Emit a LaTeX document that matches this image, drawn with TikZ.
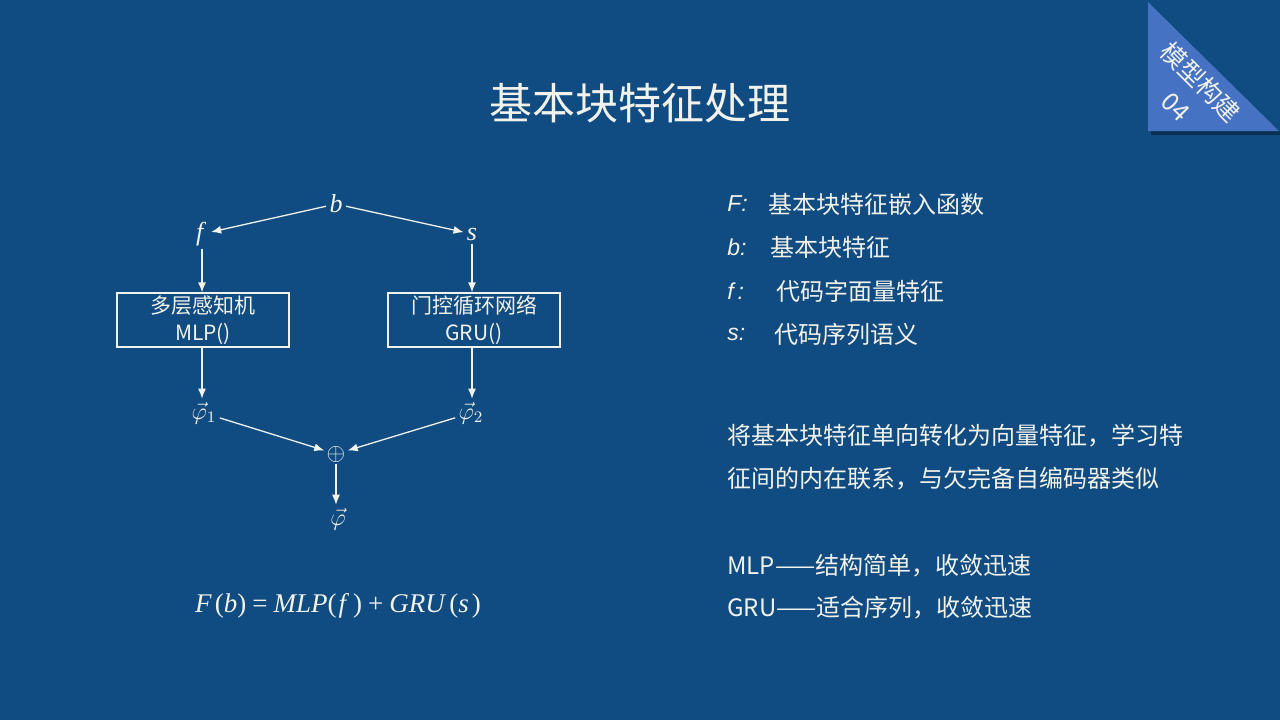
\documentclass[tikz,border=0pt]{standalone}
\usepackage{fontspec}
\setmainfont{Noto Sans CJK SC}
\newfontfamily\tms{Liberation Serif}
\newfontfamily\lsans{Liberation Sans}
\usetikzlibrary{arrows.meta}
\definecolor{bg}{RGB}{16,76,130}
\definecolor{tri}{RGB}{70,114,196}
\definecolor{ink}{RGB}{242,242,236}
\tikzset{
  conn/.style={draw=ink, line width=0.65pt, -{Latex[length=5pt,width=4pt]}},
  mathlbl/.style={text=ink, inner sep=1.5pt, font=\fontsize{12}{14}\selectfont},
  varlbl/.style={text=ink, inner sep=1.5pt, font=\tms\itshape\fontsize{13}{15}\selectfont},
  blockbox/.style={draw=ink, line width=0.6pt, text=ink, minimum width=86pt, minimum height=27pt,
                   align=center, font=\fontsize{10.5}{13.5}\selectfont, inner sep=0pt},
  bodytext/.style={text=ink, anchor=west, inner sep=0pt, font=\fontsize{12}{14}\selectfont},
  keytext/.style={text=ink, anchor=west, inner sep=0pt, font=\lsans\itshape\fontsize{11.5}{14}\selectfont},
  tabtext/.style={text=ink, rotate=-45, align=center, font=\fontsize{12.5}{17.5}\selectfont, inner sep=0pt}
}
\begin{document}
\begin{tikzpicture}[x=0.5pt, y=-0.5pt]
  \useasboundingbox (0,0) rectangle (1280,720);
  \fill[bg] (0,0) rectangle (1280,720);

  % section tab in the top-right corner
  \fill[black, opacity=0.35] (1151,5) -- (1151,135) -- (1283,135) -- cycle;
  \fill[tri] (1148,2) -- (1148,131) -- (1279,131) -- cycle;
  \node[tabtext] (tab) at (1189,94) {模型构建\\04};

  % title
  \node[text=ink, font=\fontsize{21.5}{26}\selectfont, inner sep=0pt] (title) at (640,103) {基本块特征处理};

  % flow diagram
  \node[varlbl] (b) at (336,204) {b};
  \node[varlbl] (f) at (202,234) {f\,};
  \node[varlbl] (s) at (472,234) {s};
  \node[blockbox] (mlp) at (203,320) {多层感知机\\MLP()};
  \node[blockbox] (gru) at (474,320) {门控循环网络\\GRU()};
  \node[mathlbl] (p1) at (204,413) {$\vec{\varphi}_1$};
  \node[mathlbl] (p2) at (471,413) {$\vec{\varphi}_2$};
  \node[mathlbl, inner sep=1pt] (sum) at (336,454) {$\oplus$};
  \node[mathlbl] (p) at (338,519) {$\vec{\varphi}$};

  \draw[conn] (b) -- (f);
  \draw[conn] (b) -- (s);
  \draw[conn] (f.south) -- (mlp.north -| f.south);
  \draw[conn] (s.south) -- (gru.north -| s.south);
  \draw[conn] (mlp.south -| f.south) -- (p1.north -| f.south);
  \draw[conn] (gru.south -| s.south) -- (p2.north -| s.south);
  \draw[conn] (p1) -- (sum);
  \draw[conn] (p2) -- (sum);
  \draw[conn] (sum) -- (p.north -| sum);

  \node[text=ink, inner sep=0pt, font=\tms\fontsize{13.5}{16}\selectfont] (formula) at (338,606)
    {\textit{F}\kern1.5pt(\textit{b})\kern3pt=\kern3pt\textit{MLP}(\kern1pt\textit{f}\kern2pt)\kern3pt+\kern3pt\textit{GRU}\kern1.5pt(\textit{s}\kern1.5pt)};

  % legend
  \node[keytext] (kF) at (727,204) {F:};
  \node[bodytext] (tF) at (768,204) {基本块特征嵌入函数};
  \node[keytext] (kb) at (727,247) {b:};
  \node[bodytext] (tb) at (770,247) {基本块特征};
  \node[keytext] (kf) at (727,291) {f\,:};
  \node[bodytext] (tf) at (776,291) {代码字面量特征};
  \node[keytext] (ks) at (727,334) {s:};
  \node[bodytext] (ts) at (774,334) {代码序列语义};

  \node[bodytext] (d1) at (727,436) {将基本块特征单向转化为向量特征，学习特};
  \node[bodytext] (d2) at (727,479) {征间的内在联系，与欠完备自编码器类似};
  \node[bodytext] (m1) at (727,566) {MLP——结构简单，收敛迅速};
  \node[bodytext] (m2) at (727,608) {GRU——适合序列，收敛迅速};
\end{tikzpicture}
\end{document}
